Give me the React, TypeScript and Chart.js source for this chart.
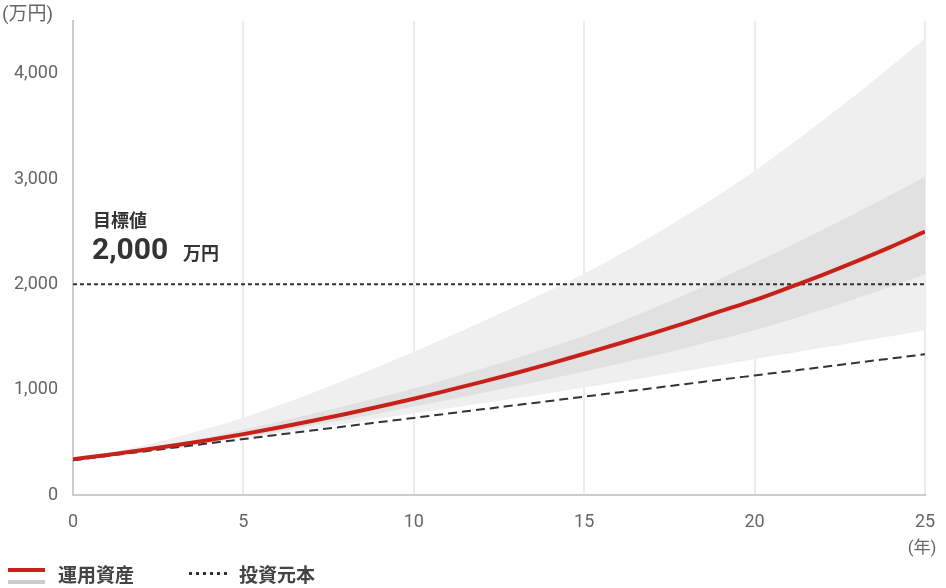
import { useEffect, useRef } from 'react';
import { Chart, registerables } from 'chart.js';

Chart.register(...registerables);

const years = [0, 1, 2, 3, 4, 5, 6, 7, 8, 9, 10, 11, 12, 13, 14, 15, 16, 17, 18, 19, 20, 21, 22, 23, 24, 25];
const assetValues = [340, 380, 424, 472, 523, 578, 638, 702, 769, 840, 914, 993, 1074, 1158, 1247, 1341, 1436, 1534, 1637, 1745, 1850, 1968, 2090, 2220, 2356, 2500];
const principalValues = [330, 370, 410, 451, 491, 531, 571, 612, 652, 692, 732, 773, 813, 853, 893, 934, 974, 1014, 1054, 1095, 1135, 1175, 1215, 1256, 1296, 1336];
const outerUpper = [340, 395, 465, 545, 635, 735, 847, 967, 1093, 1224, 1360, 1500, 1644, 1792, 1944, 2100, 2275, 2460, 2655, 2860, 3075, 3310, 3555, 3807, 4067, 4333];
const outerLower = [330, 370, 411, 453, 496, 540, 584, 630, 677, 725, 775, 822, 870, 919, 969, 1020, 1072, 1125, 1179, 1234, 1290, 1344, 1398, 1453, 1508, 1564];
const innerUpper = [340, 383, 432, 488, 551, 620, 692, 768, 847, 927, 1010, 1102, 1198, 1298, 1402, 1510, 1635, 1768, 1908, 2053, 2205, 2360, 2520, 2683, 2850, 3020];
const innerLower = [340, 375, 412, 452, 498, 550, 603, 659, 717, 777, 840, 903, 968, 1034, 1102, 1172, 1244, 1320, 1399, 1480, 1565, 1660, 1760, 1867, 1979, 2095];
const targetValue = 2000;
const yTickValues = [0, 1000, 2000, 3000, 4000];

const FONT = 'Roboto, "Noto Sans CJK JP", sans-serif';
const CJK = '"Noto Sans CJK JP", Roboto, sans-serif';

const pts = (vals: number[]) => years.map((x, i) => ({ x, y: vals[i] }));

const textPlugin = {
  id: 'texts',
  afterDraw(chart: any) {
    const ctx = chart.ctx;
    ctx.save();
    ctx.fillStyle = '#666';
    ctx.font = `19px ${FONT}`;
    ctx.textBaseline = 'middle';
    ctx.textAlign = 'left';
    ctx.fillText('(万円)', 2, 15);
    ctx.font = `17px ${FONT}`;
    ctx.textAlign = 'center';
    ctx.fillText('(年)', 922, 549);

    // annotation
    ctx.fillStyle = '#333';
    ctx.textAlign = 'left';
    ctx.font = `bold 18px ${CJK}`;
    ctx.fillText('目標値', 93, 220);
    ctx.font = `bold 30px ${FONT}`;
    ctx.fillText('2,000', 92, 251);
    ctx.font = `bold 18px ${CJK}`;
    ctx.fillText('万円', 183, 253);

    // legend
    ctx.lineCap = 'butt';
    ctx.lineWidth = 4;
    ctx.strokeStyle = '#c8211a';
    ctx.beginPath();
    ctx.moveTo(8, 570);
    ctx.lineTo(45, 570);
    ctx.stroke();
    ctx.strokeStyle = '#cccccc';
    ctx.beginPath();
    ctx.moveTo(8, 582);
    ctx.lineTo(45, 582);
    ctx.stroke();

    ctx.strokeStyle = '#333';
    ctx.lineWidth = 3;
    ctx.setLineDash([3, 4]);
    ctx.beginPath();
    ctx.moveTo(189, 573.5);
    ctx.lineTo(227, 573.5);
    ctx.stroke();
    ctx.setLineDash([]);

    ctx.fillStyle = '#444';
    ctx.font = `bold 19px ${CJK}`;
    ctx.textBaseline = 'middle';
    ctx.fillText('運用資産', 58, 575);
    ctx.fillText('投資元本', 239, 575);
    ctx.restore();
  },
};

export default function App() {
  const ref = useRef<HTMLCanvasElement | null>(null);

  useEffect(() => {
    document.body.style.margin = '0';
    const canvas = ref.current;
    if (!canvas) return;
    const band = {
      borderWidth: 0,
      pointRadius: 0,
      cubicInterpolationMode: 'monotone' as const,
    };
    const chart = new Chart(canvas, {
      type: 'line',
      data: {
        datasets: [
          { ...band, label: 'outerU', data: pts(outerUpper), fill: 1, backgroundColor: '#efefef', borderColor: 'transparent', order: 5 },
          { ...band, label: 'outerL', data: pts(outerLower), fill: false, borderColor: 'transparent', order: 5 },
          { ...band, label: 'innerU', data: pts(innerUpper), fill: 3, backgroundColor: '#e1e1e1', borderColor: 'transparent', order: 4 },
          { ...band, label: 'innerL', data: pts(innerLower), fill: false, borderColor: 'transparent', order: 4 },
          {
            label: '目標値',
            data: [{ x: years[0], y: targetValue }, { x: years[years.length - 1], y: targetValue }],
            borderColor: '#333',
            borderWidth: 2,
            borderDash: [4, 3],
            pointRadius: 0,
            fill: false,
            order: 2,
          },
          {
            label: '投資元本',
            data: pts(principalValues),
            borderColor: '#333',
            borderWidth: 2,
            borderDash: [9, 5],
            pointRadius: 0,
            fill: false,
            cubicInterpolationMode: 'monotone',
            order: 1,
          },
          {
            label: '運用資産',
            data: pts(assetValues),
            borderColor: '#c8211a',
            borderWidth: 4,
            pointRadius: 0,
            fill: false,
            cubicInterpolationMode: 'monotone',
            order: 0,
          },
        ],
      },
      options: {
        animation: false,
        responsive: false,
        devicePixelRatio: 1,
        layout: { padding: { top: 21, right: 21, left: 0, bottom: 0 } },
        plugins: { legend: { display: false }, tooltip: { enabled: false } },
        scales: {
          x: {
            type: 'linear',
            min: 0,
            max: 25,
            ticks: { stepSize: 5, color: '#666', font: { family: FONT, size: 18 }, padding: 17 },
            grid: {
              color: (c: any) => (c.tick && c.tick.value === 0 ? 'rgba(0,0,0,0)' : '#ececec'),
              lineWidth: 2,
              drawTicks: false,
            },
            border: { color: '#cccccc', width: 2 },
            afterFit: (s: any) => {
              s.height = 93;
              s.paddingLeft = 0;
              s.paddingRight = 0;
            },
          },
          y: {
            type: 'linear',
            min: 0,
            max: 4500,
            ticks: {
              stepSize: 1000,
              color: '#666',
              font: { family: FONT, size: 18 },
              padding: 15,
              callback: (v: any) => Number(v).toLocaleString('en-US'),
            },
            afterBuildTicks: (s: any) => {
              s.ticks = yTickValues.map((value) => ({ value }));
            },
            grid: { display: false, drawTicks: false },
            border: { color: '#cccccc', width: 2 },
            afterFit: (s: any) => {
              s.width = 73;
              s.paddingTop = 0;
              s.paddingBottom = 0;
            },
          },
        },
      },
      plugins: [textPlugin],
    });
    return () => chart.destroy();
  }, []);

  return (
    <div style={{ width: 946, height: 588 }}>
      <canvas ref={ref} width={946} height={588} style={{ display: 'block', width: 946, height: 588 }} />
    </div>
  );
}
